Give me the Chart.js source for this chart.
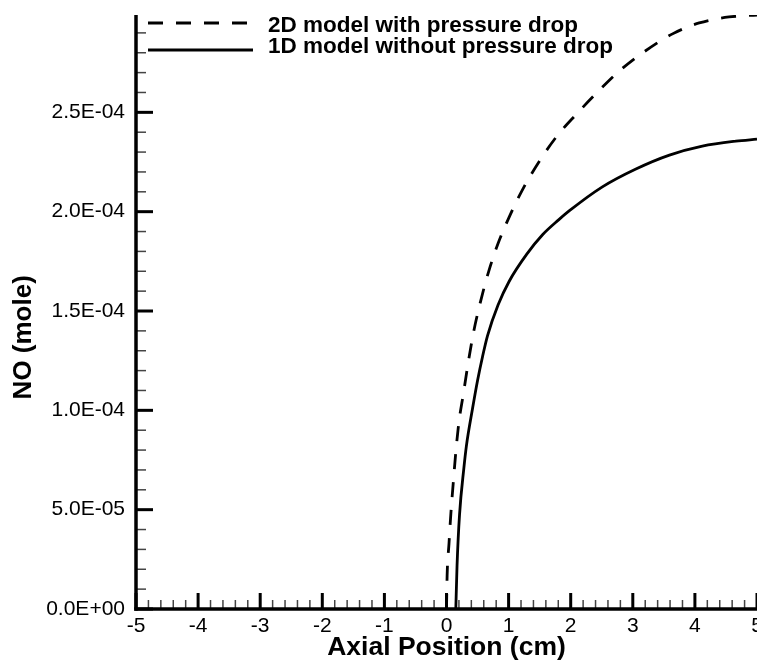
<!DOCTYPE html>
<html>
<head>
<meta charset="utf-8">
<script src="https://cdn.jsdelivr.net/npm/chart.js@4"></script>
<style>
html, body { margin: 0; padding: 0; background: #fff; }
</style>
</head>
<body>
<canvas id="chart" width="757" height="661"></canvas>
<script>
// series
var seriesNames = ['2D model with pressure drop', '1D model without pressure drop'];

var x2D = [0, 0.01, 0.04, 0.07, 0.11, 0.15, 0.20, 0.27, 0.36, 0.44, 0.55, 0.68, 0.83, 1.02, 1.24,
           1.55, 1.79, 2.09, 2.41, 2.79, 3.16, 3.64, 4.07, 4.55, 5.0];
var y2D = [0, 1.68e-5, 3.28e-5, 4.79e-5, 6.39e-5, 7.9e-5, 9.41e-5, 1.08e-4, 1.26e-4, 1.40e-4, 1.55e-4,
           1.70e-4, 1.84e-4, 1.98e-4, 2.12e-4, 2.28e-4, 2.385e-4, 2.49e-4, 2.595e-4, 2.71e-4, 2.80e-4,
           2.895e-4, 2.95e-4, 2.98e-4, 2.99e-4];

var x1D = [0.15, 0.17, 0.21, 0.28, 0.32, 0.42, 0.50, 0.58, 0.66, 0.83, 1.01, 1.29, 1.55, 1.81, 1.98,
           2.51, 3.05, 3.59, 4.12, 4.66, 5.0];
var y1D = [0, 2.2e-5, 4.75e-5, 7.1e-5, 8.2e-5, 1.01e-4, 1.15e-4, 1.27e-4, 1.375e-4, 1.53e-4, 1.65e-4,
           1.785e-4, 1.885e-4, 1.96e-4, 2.005e-4, 2.125e-4, 2.215e-4, 2.285e-4, 2.33e-4, 2.355e-4, 2.365e-4];

var xTicks = [-5, -4, -3, -2, -1, 0, 1, 2, 3, 4, 5];
var xTickLabels = ['-5', '-4', '-3', '-2', '-1', '0', '1', '2', '3', '4', '5'];
var yTicks = [0, 5e-5, 1e-4, 1.5e-4, 2e-4, 2.5e-4];
var yTickLabels = ['0.0E+00', '5.0E-05', '1.0E-04', '1.5E-04', '2.0E-04', '2.5E-04'];

function toPoints(xs, ys) {
	var pts = [];
	for (var i = 0; i < xs.length; i++) pts.push({x: xs[i], y: ys[i]});
	return pts;
}

// minor ticks: 4 between each pair of major ticks, plus the ones above the last y label
function minorTicks(major, extraEnd) {
	var out = [];
	var step = (major[1] - major[0]) / 5;
	for (var i = 0; i < major.length - 1; i++) {
		for (var k = 1; k < 5; k++) out.push(major[i] + k * step);
	}
	var last = major[major.length - 1];
	for (var j = 1; j <= extraEnd; j++) out.push(last + j * step);
	return out;
}

// axes drawn Tecplot style: thick left/bottom lines, ticks pointing inwards
var tecplotAxes = {
	id: 'tecplotAxes',
	afterDraw: function(chart) {
		var c = chart.ctx;
		var xs = chart.scales.x, ys = chart.scales.y;
		var a = chart.chartArea;
		function seg(x1, y1, x2, y2) { c.beginPath(); c.moveTo(x1, y1); c.lineTo(x2, y2); c.stroke(); }
		c.save();
		c.lineCap = 'butt';

		c.strokeStyle = '#444';
		c.lineWidth = 1.5;
		minorTicks(xTicks, 0).forEach(function(v) {
			var p = xs.getPixelForValue(v);
			seg(p, a.bottom, p, a.bottom - 9);
		});
		minorTicks(yTicks, 4).forEach(function(v) {
			var p = ys.getPixelForValue(v);
			seg(a.left, p, a.left + 10, p);
		});

		c.strokeStyle = '#000';
		c.lineWidth = 3;
		xTicks.forEach(function(v) {
			var p = xs.getPixelForValue(v);
			seg(p, a.bottom, p, a.bottom - 16);
		});
		yTicks.forEach(function(v) {
			var p = ys.getPixelForValue(v);
			seg(a.left, p, a.left + 17, p);
		});

		c.lineWidth = 3.5;
		seg(a.left, a.top, a.left, a.bottom + 1.75);
		seg(a.left - 1.75, a.bottom, a.right, a.bottom);

		// legend in the top left corner of the plot
		var rows = [{y: 23, base: 32}, {y: 50, base: 53}];
		chart.data.datasets.forEach(function(ds, i) {
			c.strokeStyle = ds.borderColor;
			c.lineWidth = ds.borderWidth;
			c.setLineDash(ds.borderDash || []);
			seg(148, rows[i].y, 253, rows[i].y);
			c.setLineDash([]);
			c.fillStyle = '#000';
			c.font = 'bold 22.5px "Liberation Sans"';
			c.textBaseline = 'alphabetic';
			c.textAlign = 'left';
			c.fillText(ds.label, 268, rows[i].base);
		});
		c.restore();
	}
};

var ctx = document.getElementById('chart').getContext('2d');
var myChart = new Chart(ctx, {
	type: 'scatter',
	data: {
		datasets: [{
			label: seriesNames[0],
			data: toPoints(x2D, y2D),
			showLine: true,
			borderColor: '#000',
			borderWidth: 2.8,
			borderDash: [15, 13],
			pointRadius: 0,
			cubicInterpolationMode: 'monotone',
			fill: false
		}, {
			label: seriesNames[1],
			data: toPoints(x1D, y1D),
			showLine: true,
			borderColor: '#000',
			borderWidth: 2.8,
			pointRadius: 0,
			cubicInterpolationMode: 'monotone',
			fill: false
		}]
	},
	options: {
		responsive: false,
		animation: false,
		devicePixelRatio: 1,
		layout: { padding: { top: 15, left: 0, right: 0, bottom: 0 } },
		plugins: {
			legend: { display: false },
			tooltip: { enabled: false }
		},
		scales: {
			x: {
				type: 'linear',
				min: -5,
				max: 5,
				grid: { display: false, drawTicks: false },
				border: { display: false },
				afterBuildTicks: function(s) { s.ticks = xTicks.map(function(v) { return {value: v}; }); },
				afterFit: function(s) { s.height = 52; s.paddingLeft = 0; s.paddingRight = 0; },
				ticks: {
					autoSkip: false,
					maxRotation: 0,
					padding: 5,
					color: '#000',
					font: { family: '"Liberation Sans"', size: 21 },
					callback: function(v, i) { return xTickLabels[i]; }
				},
				title: {
					display: true,
					text: 'Axial Position (cm)',
					color: '#000',
					font: { family: '"Liberation Sans"', size: 26.5, weight: 'bold' },
					padding: { top: 0, bottom: -3 }
				}
			},
			y: {
				type: 'linear',
				min: 0,
				max: 2.99e-4,
				grid: { display: false, drawTicks: false },
				border: { display: false },
				afterBuildTicks: function(s) { s.ticks = yTicks.map(function(v) { return {value: v}; }); },
				afterFit: function(s) { s.width = 136; s.paddingTop = 0; s.paddingBottom = 0; },
				ticks: {
					autoSkip: false,
					padding: 11,
					color: '#000',
					font: { family: '"Liberation Sans"', size: 21 },
					callback: function(v, i) { return yTickLabels[i]; }
				},
				title: {
					display: true,
					text: 'NO (mole)       ',
					color: '#000',
					font: { family: '"Liberation Sans"', size: 26, weight: 'bold' },
					padding: { top: 8, bottom: 0 }
				}
			}
		}
	},
	plugins: [tecplotAxes]
});
</script>
</body>
</html>
